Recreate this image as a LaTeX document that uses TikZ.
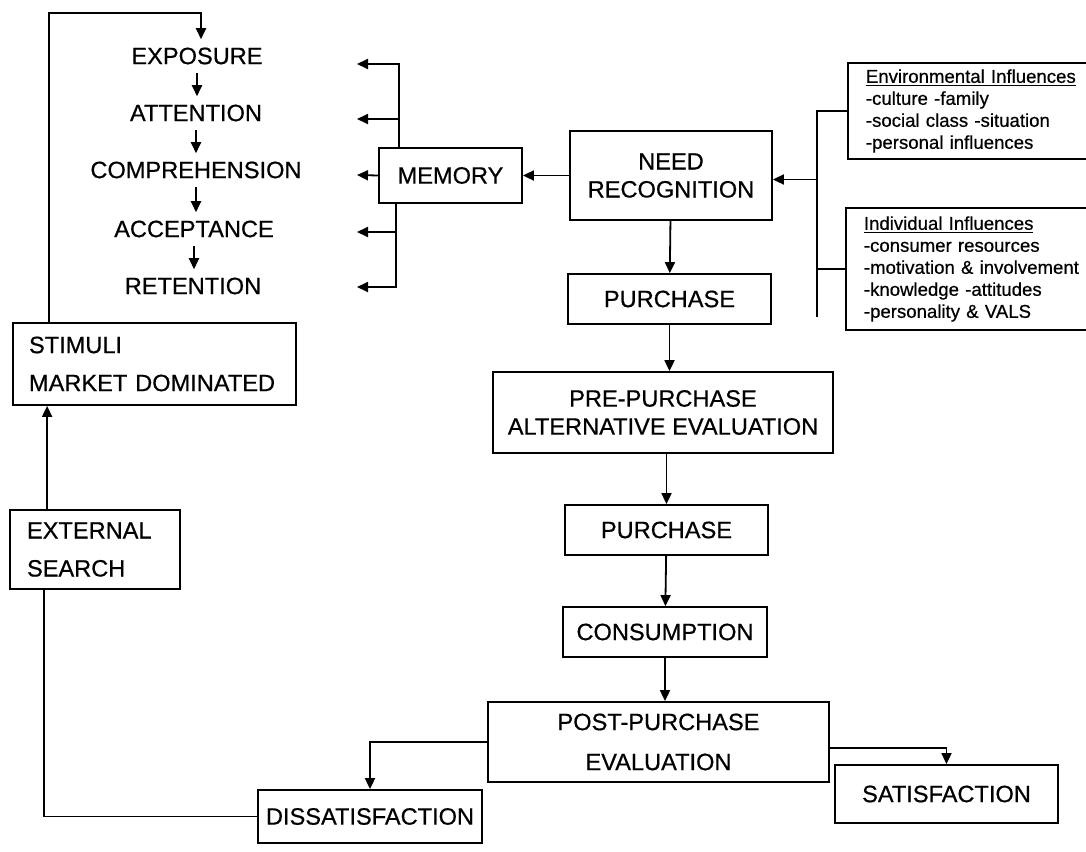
\documentclass[tikz,border=0pt]{standalone}
\usepackage{fontspec}
\setmainfont{Liberation Sans}[FakeBold=0.6]
\usetikzlibrary{arrows.meta}
\begin{document}
\begin{tikzpicture}[x=0.5pt,y=-0.5pt]
\tikzstyle{every node}+=[font=\fontsize{11.8}{14}\selectfont]
\tikzstyle{box}=[draw,line width=0.9pt,align=center,inner sep=0pt]
\tikzstyle{lbox}=[draw,line width=0.9pt,align=left,inner xsep=8pt,inner ysep=0pt]
\tikzstyle{infl}=[draw,line width=0.9pt,align=left,inner xsep=9pt,inner ysep=0pt,anchor=west,font=\fontsize{9.3}{11}\selectfont]
\tikzstyle{stage}=[inner sep=4pt]
\tikzstyle{line}=[line width=0.9pt]
\tikzstyle{arr}=[line width=0.9pt,-{Triangle[length=5.5pt,width=5pt]}]
\useasboundingbox (0,0) rectangle (1086,851);
% left column
\node [stage] (expo) at (197,56) {EXPOSURE};
\node [stage] (atten) at (196,113) {ATTENTION};
\node [stage] (compr) at (196,170) {COMPREHENSION};
\node [stage] (accept) at (194,229) {ACCEPTANCE};
\node [stage] (reten) at (193,286) {RETENTION};
\node [lbox,text width=125.5pt,minimum height=41pt] (stim) at (154.5,364) {STIMULI\\[5pt]MARKET DOMINATED};
\node [lbox,text width=68pt,minimum height=39.5pt,inner xsep=8.5pt] (ext) at (95,549.5) {EXTERNAL\\[5pt]SEARCH};
% main chain
\node [box,minimum width=71.5pt,minimum height=27.5pt] (memory) at (450.5,175.5) {MEMORY};
\node [box,minimum width=101pt,minimum height=44.5pt] (need) at (671,175.5) {NEED\\RECOGNITION};
\node [box,minimum width=101.5pt,minimum height=25pt] (purchA) at (669.5,299) {PURCHASE};
\node [box,minimum width=170pt,minimum height=40.5pt] (pre) at (663,412.5) {PRE-PURCHASE\\ALTERNATIVE EVALUATION};
\node [box,minimum width=101.5pt,minimum height=25pt] (purchB) at (666.5,530) {PURCHASE};
\node [box,minimum width=102pt,minimum height=25pt] (cons) at (665,632) {CONSUMPTION};
\node [box,minimum width=170.5pt,minimum height=40pt] (post) at (658.5,742) {POST-PURCHASE\\[6pt]EVALUATION};
\node [box,minimum width=112pt,minimum height=26.5pt] (dissat) at (370,816.5) {DISSATISFACTION};
\node [box,minimum width=111.5pt,minimum height=29pt] (sat) at (946.5,794) {SATISFACTION};
% influences
\node [infl,text width=112pt,minimum height=48pt] (env) at (847,111) {\underline{Environmental Influences}\\-culture -family\\-social class -situation\\-personal influences};
\node [infl,text width=112pt,minimum height=61pt] (ind) at (845,269) {\underline{Individual Influences}\\-consumer resources\\-motivation \& involvement\\-knowledge -attitudes\\-personality \& VALS};
\coordinate (looptop) at (201,13);
\coordinate (bus) at (817,317);
\coordinate (m1) at (357,64);
\coordinate (m2) at (357,119);
\coordinate (m3) at (357,175);
\coordinate (m4) at (357,232);
\coordinate (m5) at (357,287);
% arrows
\draw [arr] (expo.south) -- (expo.south |- atten.north);
\draw [arr] (atten.south) -- (atten.south |- compr.north);
\draw [arr] (compr.south) -- (compr.south |- accept.north);
\draw [arr] (accept.south) -- (accept.south |- reten.north);
\draw [arr] ([xshift=18.5pt]stim.north west) |- (looptop) -- (looptop |- expo.north);
\draw [arr] ([xshift=19pt]ext.north west) -- ([xshift=19pt]ext.north west |- stim.south);
\draw [line] (dissat.west) -| ([xshift=17.5pt]ext.south west);
\draw [arr] ([xshift=10.5pt]memory.north west) |- (m1);
\draw [arr] ([xshift=10.5pt]memory.north west) |- (m2);
\draw [arr] (memory.west) -- (m3);
\draw [arr] ([xshift=9pt]memory.south west) |- (m4);
\draw [arr] ([xshift=9pt]memory.south west) |- (m5);
\draw [arr] (need.west) -- (memory.east);
\draw [arr] (need) -- (purchA);
\draw [arr] (purchA.south) -- (purchA.south |- pre.north);
\draw [arr] (pre.south -| purchB) -- (purchB.north);
\draw [arr] (purchB) -- (cons);
\draw [arr] (cons.south) -- (cons.south |- post.north);
\draw [arr] (post.west) -| (dissat.north);
\draw [arr] ([yshift=-3pt]post.east) -| (sat.north);
\draw [line] (env.west) -| (bus);
\draw [line] (ind.west) -- (ind.west -| bus);
\draw [arr] ([yshift=-2pt]need.east -| bus) -- ([yshift=-2pt]need.east);
\end{tikzpicture}
\end{document}
